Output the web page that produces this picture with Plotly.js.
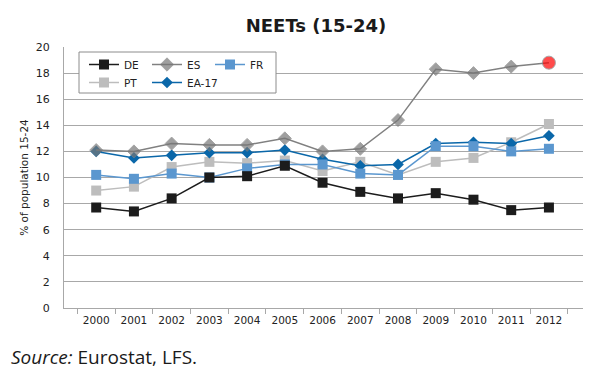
<!DOCTYPE html>
<html>
<head>
<meta charset="utf-8">
<script src="https://cdn.plot.ly/plotly-3.0.1.min.js"></script>
<style>
html,body{margin:0;padding:0;background:#fff;}
#chart{width:599px;height:377px;}
</style>
</head>
<body>
<div id="chart"></div>
<script>
const years = ["2000","2001","2002","2003","2004","2005","2006","2007","2008","2009","2010","2011","2012"];
const DE   = [7.7, 7.4, 8.4, 10.0, 10.1, 10.9, 9.6, 8.9, 8.4, 8.8, 8.3, 7.5, 7.7];
const ES   = [12.1, 12.0, 12.6, 12.5, 12.5, 13.0, 12.0, 12.2, 14.4, 18.3, 18.0, 18.5, 18.8];
const FR   = [10.2, 9.9, 10.3, 10.0, 10.7, 11.0, 11.0, 10.3, 10.2, 12.4, 12.4, 12.0, 12.2];
const PT   = [9.0, 9.3, 10.8, 11.2, 11.1, 11.3, 10.5, 11.2, 10.2, 11.2, 11.5, 12.7, 14.1];
const EA17 = [12.0, 11.5, 11.7, 11.9, 11.9, 12.1, 11.4, 10.9, 11.0, 12.6, 12.7, 12.6, 13.2];
const yTicks = [0, 2, 4, 6, 8, 10, 12, 14, 16, 18, 20];

const FONT = "DejaVu Sans, Verdana, sans-serif";
const GRID = "#a8a8a8";

// ES: last point highlighted as a red circle
const esSymbols = ES.map((v, i) => i === ES.length - 1 ? "circle" : "diamond");
const esColors  = ES.map((v, i) => i === ES.length - 1 ? "#ff0000" : "#777777");
const esSizes   = ES.map((v, i) => i === ES.length - 1 ? 13 : 10);

const traces = [
  {name: "PT", x: years, y: PT, mode: "lines+markers", legend: "legend2",
   line: {color: "#bdbdbd", width: 1.5}, marker: {symbol: "square", size: 10, color: "#bdbdbd"}},
  {name: "EA-17", x: years, y: EA17, mode: "lines+markers", legend: "legend3",
   line: {color: "#0a67a9", width: 1.5}, marker: {symbol: "diamond", size: 9, color: "#0a67a9"}},
  {name: "FR", x: years, y: FR, mode: "lines+markers", legend: "legend", legendrank: 3,
   line: {color: "#5b97cf", width: 1.5}, marker: {symbol: "square", size: 10, color: "#5b97cf"}},
  {name: "ES", x: years, y: ES, mode: "lines+markers", legend: "legend", legendrank: 2,
   line: {color: "#808080", width: 1.5}, marker: {symbol: esSymbols, size: esSizes, color: esColors}},
  {name: "DE", x: years, y: DE, mode: "lines+markers", legend: "legend", legendrank: 1,
   line: {color: "#1c1c1c", width: 1.5}, marker: {symbol: "square", size: 10, color: "#1c1c1c"}}
];

const L = 64, R = 16, T = 47, B = 69, W = 599, H = 377;
const pw = W - L - R, ph = H - T - B;
const px = x => (x - L) / pw;
const py = y => (H - B - y) / ph;

const legendCommon = {
  orientation: "h", xanchor: "left", yanchor: "top",
  bgcolor: "rgba(0,0,0,0)", borderwidth: 0,
  font: {family: FONT, size: 10.5, color: "#222"},
  itemwidth: 30, traceorder: "normal"
};

const layout = {
  width: W, height: H,
  margin: {l: L, r: R, t: T, b: B},
  paper_bgcolor: "#ffffff", plot_bgcolor: "#ffffff",
  showlegend: true,
  title: {text: "<b>NEETs (15-24)</b>", font: {family: "DejaVu Sans, sans-serif", size: 18, color: "#1a1a1a"},
          x: 316 / W, xanchor: "center", y: 1 - 26 / H, yanchor: "middle"},
  xaxis: {
    type: "category", tickson: "boundaries", ticks: "outside", ticklen: 5, tickcolor: GRID,
    showline: true, linecolor: GRID, linewidth: 1, showgrid: false, zeroline: false,
    ticklabelstandoff: 2,
    tickfont: {family: FONT, size: 10.5, color: "#222"}, fixedrange: true
  },
  yaxis: {
    range: [0, 20], tickvals: yTicks, ticks: "outside", ticklen: 11, tickcolor: "rgba(0,0,0,0)",
    showline: true, linecolor: GRID, linewidth: 1, showgrid: true, gridcolor: GRID, gridwidth: 1,
    zeroline: false, tickfont: {family: FONT, size: 11, color: "#222"},
    title: {text: "% of population 15-24", font: {family: FONT, size: 10.5, color: "#222"}, standoff: 5}
  },
  legend: Object.assign({}, legendCommon, {x: px(84), y: py(50), entrywidth: 18}),
  legend2: Object.assign({}, legendCommon, {x: px(84), y: py(68)}),
  legend3: Object.assign({}, legendCommon, {x: px(147), y: py(68)}),
  shapes: [{type: "rect", xref: "paper", yref: "paper", x0: px(79), x1: px(276), y0: py(93), y1: py(52),
            fillcolor: "#ffffff", line: {color: "#8c8c8c", width: 1}, layer: "above"}],
  annotations: [{text: "<i>Source:</i> Eurostat, LFS.", xref: "paper", yref: "paper",
                 x: -L / pw + 9 / pw, y: py(357), xanchor: "left", yanchor: "middle", showarrow: false,
                 font: {family: "Open Sans, sans-serif", size: 19, color: "#1a1a1a"}}]
};

Plotly.newPlot("chart", traces, layout, {displayModeBar: false, staticPlot: true});
</script>
</body>
</html>
